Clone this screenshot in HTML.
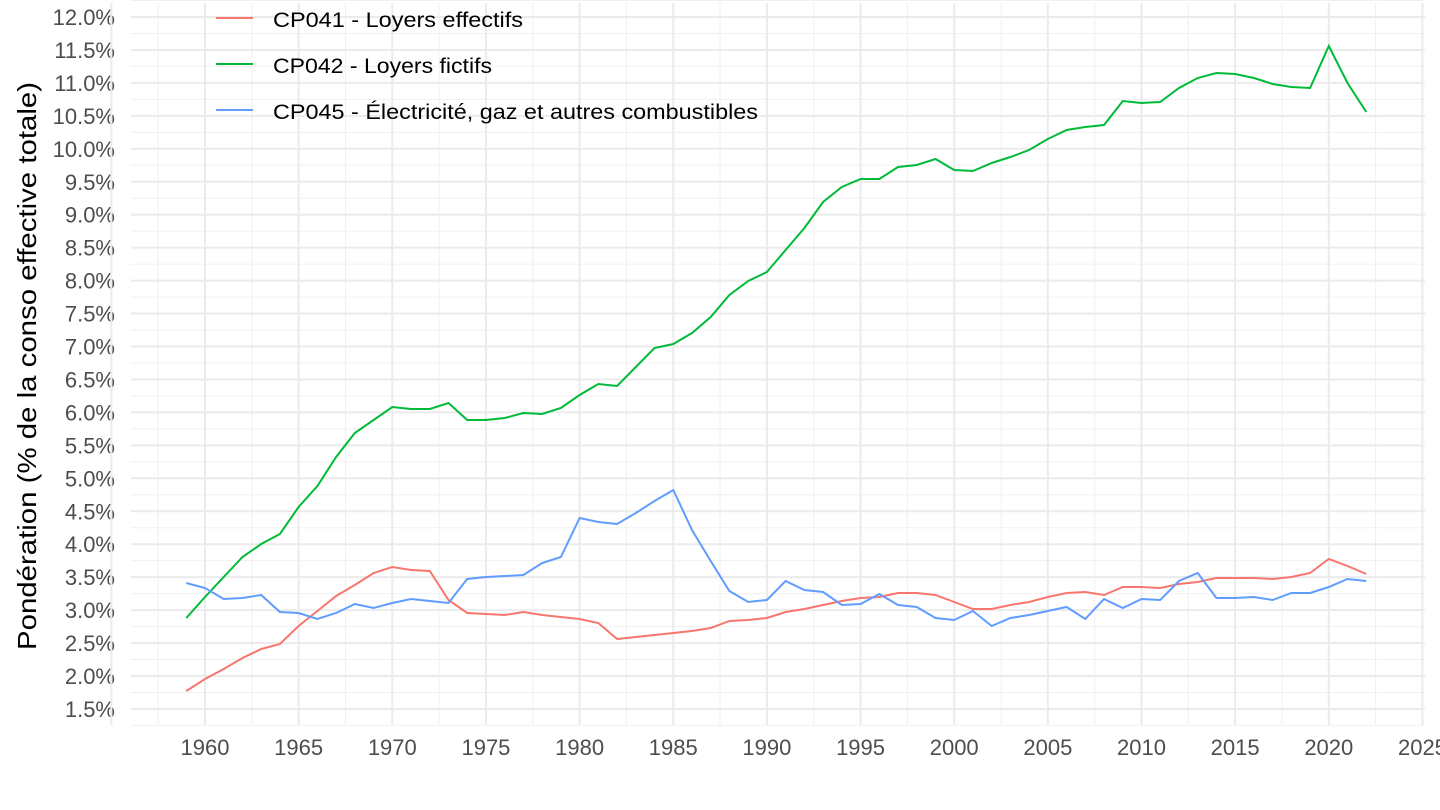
<!DOCTYPE html>
<html><head><meta charset="utf-8"><style>
html,body{margin:0;padding:0;background:#fff;}
svg{display:block;font-family:"Liberation Sans",Arial,sans-serif;}
</style></head><body>
<svg id="c" width="1440" height="810" xmlns="http://www.w3.org/2000/svg"></svg>
<script>
const s=document.getElementById('c');let h='';
const X=y=>205+(y-1960)*18.73;
const Yv=v=>17+(12-v)*65.9;
for(let v=1.25;v<=12.25;v+=0.5){h+=`<line x1="131" x2="1425" y1="${Yv(v)}" y2="${Yv(v)}" stroke="#f0f0f0" stroke-width="1"/>`;}
for(let yr=1957.5;yr<=2025;yr+=5){h+=`<line y1="3" y2="725" x1="${X(yr)}" x2="${X(yr)}" stroke="#f0f0f0" stroke-width="1"/>`;}
for(let v=1.5;v<=12.01;v+=0.5){const y=Yv(v);h+=`<line x1="131" x2="1425" y1="${y}" y2="${y}" stroke="#ebebeb" stroke-width="2"/><text x="115" y="${y+8}" text-anchor="end" font-size="22" fill="#4d4d4d">${v.toFixed(1)}%</text>`;}
for(let yr=1955;yr<=2025;yr+=5){const x=X(yr);h+=`<line y1="3" y2="725" x1="${x}" x2="${x}" stroke="#ebebeb" stroke-width="2"/>`;if(yr>=1960)h+=`<text x="${x}" y="755" text-anchor="middle" font-size="22" fill="#4d4d4d">${yr}</text>`;}
const g=[618,597,577,557,544,534,507,486,457,433,420,407,409,409,403,420,420,418,413,414,408,395,384,386,367,348,344,333,317,295,281,272,250,228,202,187,179,179,167,165,159,170,171,163,157,150,139,130,127,125,101,103,102,88,78,73,74,78,84,87,88,46,83,112];
const r=[691,679,669,658,649,644,626,611,596,585,573,567,570,571,600,613,614,615,612,615,617,619,623,639,637,635,633,631,628,621,620,618,612,609,605,601,598,597,593,593,595,602,609,609,605,602,597,593,592,595,587,587,588,584,582,578,578,578,579,577,573,559,566,574];
const b=[583,588,599,598,595,612,613,619,613,604,608,603,599,601,603,579,577,576,575,563,557,518,522,524,513,501,490,530,561,591,602,600,581,590,592,605,604,594,605,607,618,620,611,626,618,615,611,607,619,599,608,599,600,581,573,598,598,597,600,593,593,587,579,581];
const pl=(a,c)=>`<polyline fill="none" stroke="${c}" stroke-width="2" points="${a.map((y,i)=>X(1959+i).toFixed(1)+','+y).join(' ')}"/>`;
h+=pl(r,'#F8766D')+pl(g,'#00BA38')+pl(b,'#619CFF');
const lg=[['CP041 - Loyers effectifs','#F8766D',18,250],['CP042 - Loyers fictifs','#00BA38',64,219],['CP045 - Électricité, gaz et autres combustibles','#619CFF',110,485]];
for(const [t,c,y,w] of lg){h+=`<line x1="216" x2="253" y1="${y}" y2="${y}" stroke="${c}" stroke-width="2"/><text x="273" y="${y+9}" font-size="21.5" textLength="${w}" lengthAdjust="spacingAndGlyphs" fill="#000">${t}</text>`;}
h+=`<text transform="translate(36,366) rotate(-90)" text-anchor="middle" font-size="26" textLength="568" lengthAdjust="spacingAndGlyphs" fill="#000">Pondération (% de la conso effective totale)</text>`;
s.innerHTML=h;
</script>
</body></html>
